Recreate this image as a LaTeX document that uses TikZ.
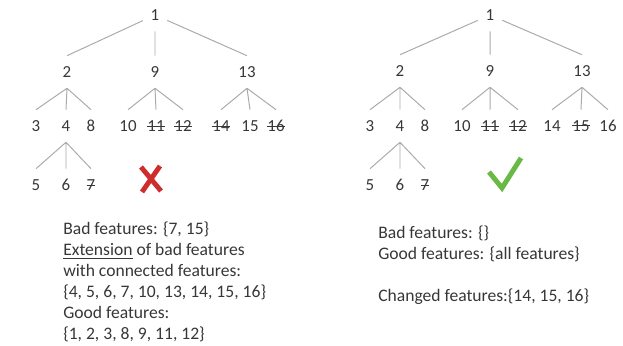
\documentclass[tikz,border=0pt]{standalone}
\usepackage{fontspec}
\setmainfont{Carlito}
\usepackage{xcolor}
\definecolor{linkgray}{RGB}{170,170,170}
\definecolor{numgray}{RGB}{55,55,55}
\definecolor{badred}{RGB}{205,45,45}
\definecolor{goodgreen}{RGB}{105,185,70}
\newcommand{\strk}[1]{\setbox0=\hbox{#1}\rlap{\rule[0.3em]{\wd0}{0.6pt}}\box0}

\begin{document}
\begin{tikzpicture}[
  x=0.025cm, y=-0.025cm,
  every node/.style={font=\fontsize{12}{14}\selectfont, text=numgray},
  num/.style={minimum width=0.6cm, minimum height=0.8cm, inner sep=0pt},
  link/.style={draw=linkgray, line width=0.7pt},
  note/.style={anchor=west, align=left, inner sep=0pt,
               font=\fontsize{12.5}{14.9}\selectfont},
  sign/.style={line width=3.5pt}
]
\useasboundingbox (0,0) rectangle (623,346);

% left tree
\node[num] (l1) at (155, 15) {1};
\node[num] (l2) at (67, 72) {2};
\node[num] (l9) at (155, 72) {9};
\node[num] (l13) at (247, 72) {13};
\node[num] (l3) at (36, 126) {3};
\node[num] (l4) at (66, 126) {4};
\node[num] (l8) at (91, 126) {8};
\node[num] (l10) at (128, 126) {10};
\node[num] (l11) at (156, 126) {\strk{11}};
\node[num] (l12) at (183, 126) {\strk{12}};
\node[num] (l14) at (221, 126) {\strk{14}};
\node[num] (l15) at (250, 126) {15};
\node[num] (l16) at (276, 126) {\strk{16}};
\node[num] (l5) at (36, 185) {5};
\node[num] (l6) at (66, 185) {6};
\node[num] (l7) at (91, 185) {\strk{7}};

\draw[link] (l1) -- (l2.north) (l1) -- (l9.north) (l1) -- (l13.north);
\draw[link] (l2.south) -- (l3.north) (l2.south) -- (l4.north) (l2.south) -- (l8.north);
\draw[link] (l9.south) -- (l10.north) (l9.south) -- (l11.north) (l9.south) -- (l12.north);
\draw[link] (l13.south) -- (l14.north) (l13.south) -- (l15.north) (l13.south) -- (l16.north);
\draw[link] (l4.south) -- (l5.north) (l4.south) -- (l6.north) (l4.south) -- (l7.north);

\draw[sign, badred] (141,167) -- (161,191) (160,166) -- (142,192);

\node[note] (badleft) at (63, 282)
  {Bad features: \{7, 15\}\\
   \underline{Extension} of bad features\\
   with connected features:\\
   \{4, 5, 6, 7, 10, 13, 14, 15, 16\}\\
   Good features:\\
   \{1, 2, 3, 8, 9, 11, 12\}};

% right tree
\node[num] (r1) at (490, 15) {1};
\node[num] (r2) at (400, 71) {2};
\node[num] (r9) at (490, 71) {9};
\node[num] (r13) at (582, 71) {13};
\node[num] (r3) at (370, 126) {3};
\node[num] (r4) at (400, 126) {4};
\node[num] (r8) at (425, 126) {8};
\node[num] (r10) at (462, 126) {10};
\node[num] (r11) at (490, 126) {\strk{11}};
\node[num] (r12) at (518, 126) {\strk{12}};
\node[num] (r14) at (552, 126) {14};
\node[num] (r15) at (581, 126) {\strk{15}};
\node[num] (r16) at (608, 126) {16};
\node[num] (r5) at (370, 185) {5};
\node[num] (r6) at (400, 185) {6};
\node[num] (r7) at (425, 185) {\strk{7}};

\draw[link] (r1) -- (r2.north) (r1) -- (r9.north) (r1) -- (r13.north);
\draw[link] (r2.south) -- (r3.north) (r2.south) -- (r4.north) (r2.south) -- (r8.north);
\draw[link] (r9.south) -- (r10.north) (r9.south) -- (r11.north) (r9.south) -- (r12.north);
\draw[link] (r13.south) -- (r14.north) (r13.south) -- (r15.north) (r13.south) -- (r16.north);
\draw[link] (r4.south) -- (r5.north) (r4.south) -- (r6.north) (r4.south) -- (r7.north);

\draw[sign, goodgreen] (489,172) -- (502,188) -- (521,158);

\node[note] (badright) at (378, 265)
  {Bad features: \{\}\\
   Good features: \{all features\}\\[14.9pt]
   Changed features:\{14, 15, 16\}};

\end{tikzpicture}
\end{document}
